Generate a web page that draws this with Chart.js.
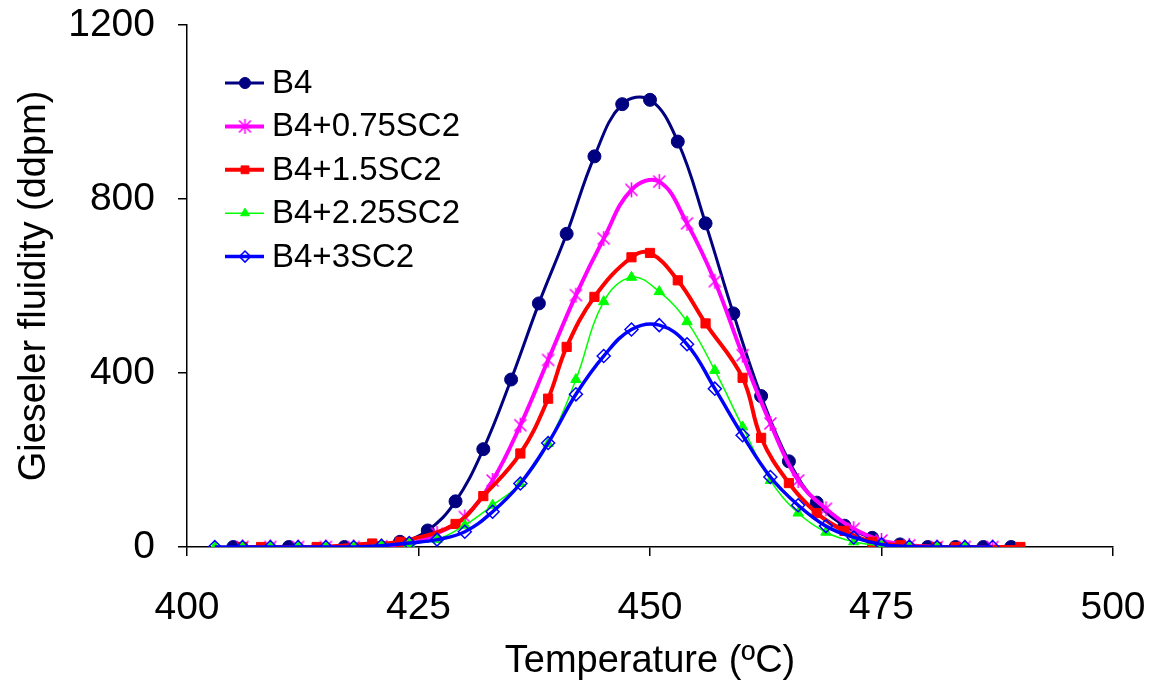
<!DOCTYPE html>
<html>
<head>
<meta charset="utf-8">
<title>Gieseler fluidity</title>
<script src="https://cdn.jsdelivr.net/npm/chart.js@4.4.1/dist/chart.umd.min.js"></script>
<style>
  html, body { margin: 0; padding: 0; background: #ffffff; }
  #wrap { width: 1154px; height: 695px; }
</style>
</head>
<body>
<div id="wrap"><canvas id="fluidityChart" width="1154" height="695"></canvas></div>
<script>
// data (temperature in ºC, fluidity in ddpm)
const seriesNames = ["B4", "B4+0.75SC2", "B4+1.5SC2", "B4+2.25SC2", "B4+3SC2"];

const b4Temp = [405, 411, 417, 423, 426, 429, 432, 435, 438, 441, 444, 447, 450, 453, 456, 459, 462, 465, 468, 471, 474, 477, 480, 483, 486, 489];
const b4Fluid = [0, 0, 0, 12, 38, 105, 225, 385, 560, 720, 898, 1018, 1028, 932, 744, 537, 347, 197, 102, 49, 21, 6, 0, 0, 0, 0];

const sc075Temp = [406, 409, 412, 415, 418, 421, 424, 427, 430, 433, 436, 439, 442, 445, 448, 451, 454, 457, 460, 463, 466, 469, 472, 475, 478, 481, 484, 487];
const sc075Fluid = [0, 0, 0, 0, 0, 2, 6, 31, 69, 153, 280, 430, 579, 709, 821, 840, 744, 611, 441, 284, 153, 88, 42, 15, 4, 0, 0, 0];

const sc15Temp = [406, 408, 414, 420, 423, 429, 432, 436, 439, 441, 444, 448, 450, 453, 456, 460, 462, 465, 468, 471, 474, 477, 481, 483, 490];
const sc15Fluid = [0, 0, 0, 8, 12, 53, 117, 215, 341, 460, 575, 666, 676, 613, 514, 389, 251, 147, 78, 37, 12, 4, 0, 0, 0];

const sc225Temp = [403, 406, 409, 412, 415, 418, 421, 424, 427, 430, 433, 436, 439, 442, 445, 448, 451, 454, 457, 460, 463, 466, 469, 472, 475, 478, 481, 484];
const sc225Fluid = [0, 0, 0, 0, 0, 0, 5, 8, 17, 50, 96, 146, 238, 385, 564, 620, 587, 518, 406, 276, 153, 78, 34, 12, 3, 0, 0, 0];

const sc3Temp = [403, 406, 409, 412, 415, 418, 421, 424, 427, 430, 433, 436, 439, 442, 445, 448, 451, 454, 457, 460, 463, 466, 469, 472, 475, 478, 481, 484, 487];
const sc3Fluid = [0, 0, 0, 0, 0, 0, 3, 9, 17, 35, 81, 146, 239, 351, 439, 500, 510, 466, 364, 257, 161, 96, 48, 22, 6, 1, 0, 0, 0];

const xTicks = [400, 425, 450, 475, 500];
const yTicks = [0, 400, 800, 1200];

const FONT = "'Liberation Sans', Arial, Helvetica, sans-serif";

function pairs(xs, ys) {
  return xs.map((x, i) => ({ x: x, y: ys[i] }));
}

// excel-like asterisk marker (X plus a vertical bar)
function asteriskMarker(color) {
  const c = document.createElement("canvas");
  c.width = 17;
  c.height = 17;
  const g = c.getContext("2d");
  g.strokeStyle = color;
  g.lineWidth = 1.6;
  g.beginPath();
  g.moveTo(8.5, 1); g.lineTo(8.5, 16);
  g.moveTo(2.5, 2.5); g.lineTo(14.5, 14.5);
  g.moveTo(14.5, 2.5); g.lineTo(2.5, 14.5);
  g.stroke();
  return c;
}

// legend drawn inside the plot, line with marker like the original
const insideLegend = {
  id: "insideLegend",
  afterDraw(chart) {
    const ctx = chart.ctx;
    const x0 = 225, x1 = 264, xm = 245, textX = 272;
    ctx.save();
    chart.data.datasets.forEach((ds, i) => {
      const y = 83 + i * 43.4;
      ctx.strokeStyle = ds.borderColor;
      ctx.lineWidth = ds.borderWidth;
      ctx.beginPath();
      ctx.moveTo(x0, y);
      ctx.lineTo(x1, y);
      ctx.stroke();
      ctx.fillStyle = ds.pointBackgroundColor;
      ctx.strokeStyle = ds.pointBorderColor;
      ctx.lineWidth = ds.pointBorderWidth;
      Chart.helpers.drawPoint(ctx, {
        pointStyle: ds.pointStyle,
        radius: ds.pointRadius * 0.85,
        rotation: 0,
        borderWidth: ds.pointBorderWidth,
      }, xm, y);
      ctx.fillStyle = "#000000";
      ctx.font = "33px " + FONT;
      ctx.textAlign = "left";
      ctx.textBaseline = "middle";
      ctx.fillText(ds.label, textX, y + 1);
    });
    ctx.restore();
  },
};

const datasets = [
  {
    label: seriesNames[0],
    data: pairs(b4Temp, b4Fluid),
    borderColor: "#000080",
    borderWidth: 3,
    pointStyle: "circle",
    pointRadius: 6.5,
    pointBackgroundColor: "#000080",
    pointBorderColor: "#000080",
    pointBorderWidth: 1,
    order: 4,
  },
  {
    label: seriesNames[1],
    data: pairs(sc075Temp, sc075Fluid),
    borderColor: "#ff00ff",
    borderWidth: 4,
    pointStyle: asteriskMarker("#ff00ff"),
    pointRadius: 7,
    pointBackgroundColor: "#ff00ff",
    pointBorderColor: "#ff00ff",
    pointBorderWidth: 1,
    order: 3,
  },
  {
    label: seriesNames[2],
    data: pairs(sc15Temp, sc15Fluid),
    borderColor: "#ff0000",
    borderWidth: 4,
    pointStyle: "rect",
    pointRadius: 6.5,
    pointBackgroundColor: "#ff0000",
    pointBorderColor: "#ff0000",
    pointBorderWidth: 1,
    order: 2,
  },
  {
    label: seriesNames[3],
    data: pairs(sc225Temp, sc225Fluid),
    borderColor: "#00ff00",
    borderWidth: 1.5,
    pointStyle: "triangle",
    pointRadius: 6,
    pointBackgroundColor: "#00ff00",
    pointBorderColor: "#00ff00",
    pointBorderWidth: 1,
    order: 1,
  },
  {
    label: seriesNames[4],
    data: pairs(sc3Temp, sc3Fluid),
    borderColor: "#0000ff",
    borderWidth: 3.5,
    pointStyle: "rectRot",
    pointRadius: 6.5,
    pointBackgroundColor: "rgba(255,255,255,0)",
    pointBorderColor: "#0000ff",
    pointBorderWidth: 1.5,
    order: 0,
  },
];

datasets.forEach((ds) => {
  ds.showLine = true;
  ds.tension = 0.4;
  ds.fill = false;
});

new Chart(document.getElementById("fluidityChart"), {
  type: "scatter",
  data: { datasets: datasets },
  options: {
    responsive: false,
    animation: false,
    devicePixelRatio: 1,
    layout: { padding: { top: 25, right: 41, bottom: 0, left: 0 } },
    plugins: {
      legend: { display: false },
      tooltip: { enabled: false },
    },
    scales: {
      x: {
        type: "linear",
        min: xTicks[0],
        max: xTicks[xTicks.length - 1],
        afterBuildTicks: (scale) => { scale.ticks = xTicks.map((v) => ({ value: v })); },
        afterFit: (scale) => {
          scale.height = 148;
          scale.paddingLeft = 0;
          scale.paddingRight = 0;
        },
        border: { display: true, color: "#000000", width: 1.5 },
        grid: { display: true, drawOnChartArea: false, drawTicks: true, tickLength: 9, color: "#000000", lineWidth: 1.5 },
        ticks: {
          color: "#000000",
          padding: 29,
          maxRotation: 0,
          font: { family: FONT, size: 39 },
          callback: (value) => String(value),
        },
        title: {
          display: true,
          text: "Temperature (ºC)",
          color: "#000000",
          padding: { top: 0, bottom: 11 },
          font: { family: FONT, size: 38 },
        },
      },
      y: {
        type: "linear",
        min: yTicks[0],
        max: yTicks[yTicks.length - 1],
        afterBuildTicks: (scale) => { scale.ticks = yTicks.map((v) => ({ value: v })); },
        afterFit: (scale) => {
          scale.width = 187;
          scale.paddingTop = 0;
          scale.paddingBottom = 0;
        },
        border: { display: true, color: "#000000", width: 1.5 },
        grid: { display: true, drawOnChartArea: false, drawTicks: true, tickLength: 9, color: "#000000", lineWidth: 1.5 },
        ticks: {
          color: "#000000",
          padding: 23,
          font: { family: FONT, size: 39 },
          callback: (value) => String(value),
        },
        title: {
          display: true,
          text: "Gieseler fluidity (ddpm)",
          color: "#000000",
          padding: { top: 12, bottom: 0 },
          font: { family: FONT, size: 38 },
        },
      },
    },
  },
  plugins: [insideLegend],
});
</script>
</body>
</html>
